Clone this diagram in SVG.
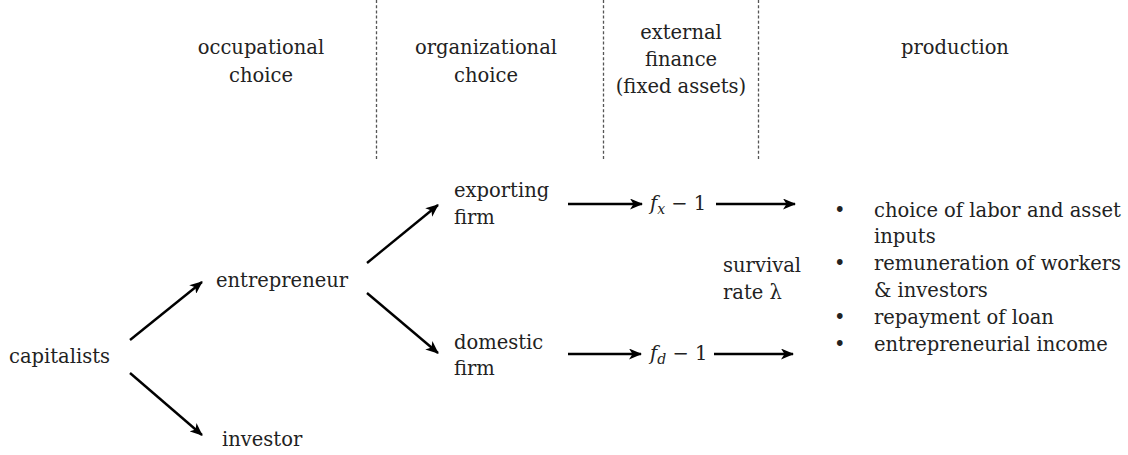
<svg xmlns="http://www.w3.org/2000/svg" width="1128" height="455" viewBox="0 0 1128 455">
<style>
text{font-family:'DejaVu Serif','Liberation Serif',serif;font-size:19.5px;fill:#222}
.c{text-anchor:middle}
.m{font-style:italic}
.sub{font-style:italic;font-size:14px}
.div{stroke:#555;stroke-width:1.3;stroke-dasharray:3 2.2;fill:none}
.arr{stroke:#000;stroke-width:2.4;fill:none;marker-end:url(#ah)}
</style>
<defs>
<marker id="ah" viewBox="0 0 13 11" refX="12" refY="5.5" markerWidth="13" markerHeight="11" markerUnits="userSpaceOnUse" orient="auto">
<path d="M0,0 L13,5.5 L0,11 L3.5,5.5 z" fill="#000"/>
</marker>
</defs>
<g id="dividers">
<line class="div" x1="376.5" y1="0" x2="376.5" y2="160"/>
<line class="div" x1="603.5" y1="0" x2="603.5" y2="160"/>
<line class="div" x1="758.5" y1="0" x2="758.5" y2="160"/>
</g>
<g id="headers">
<text class="c" x="261" y="54">occupational</text>
<text class="c" x="261" y="82">choice</text>
<text class="c" x="486" y="54">organizational</text>
<text class="c" x="486" y="82">choice</text>
<text class="c" x="681" y="39">external</text>
<text class="c" x="681" y="66">finance</text>
<text class="c" x="681" y="93">(fixed assets)</text>
<text class="c" x="955" y="54">production</text>
</g>
<g id="connectors">
<line class="arr" x1="130" y1="340" x2="202" y2="282"/>
<line class="arr" x1="130" y1="373" x2="202" y2="435"/>
<line class="arr" x1="367" y1="263" x2="438" y2="205"/>
<line class="arr" x1="367" y1="293" x2="438" y2="353"/>
<line class="arr" x1="568" y1="204" x2="642" y2="204"/>
<line class="arr" x1="716" y1="204" x2="795" y2="204"/>
<line class="arr" x1="568" y1="354" x2="641" y2="354"/>
<line class="arr" x1="714" y1="354" x2="793" y2="354"/>
</g>
<g id="capitalists"><text x="9" y="363">capitalists</text></g>
<g id="entrepreneur"><text x="216" y="287">entrepreneur</text></g>
<g id="investor"><text x="222" y="446">investor</text></g>
<g id="exporting"><text x="454" y="197">exporting</text><text x="454" y="224">firm</text></g>
<g id="domestic"><text x="454" y="349">domestic</text><text x="454" y="375">firm</text></g>
<g id="fx"><text x="650" y="210"><tspan class="m">f</tspan><tspan class="sub" dy="4">x</tspan><tspan dy="-4"> − 1</tspan></text></g>
<g id="fd"><text x="650" y="360"><tspan class="m">f</tspan><tspan class="sub" dy="4">d</tspan><tspan dy="-4"> − 1</tspan></text></g>
<g id="survival"><text x="723" y="272">survival</text><text x="723" y="299">rate λ</text></g>
<g id="production-list">
<text x="834" y="217">•</text><text x="874" y="217">choice of labor and asset</text>
<text x="874" y="243">inputs</text>
<text x="834" y="270">•</text><text x="874" y="270">remuneration of workers</text>
<text x="874" y="297">&amp; investors</text>
<text x="834" y="324">•</text><text x="874" y="324">repayment of loan</text>
<text x="834" y="351">•</text><text x="874" y="351">entrepreneurial income</text>
</g>
</svg>
